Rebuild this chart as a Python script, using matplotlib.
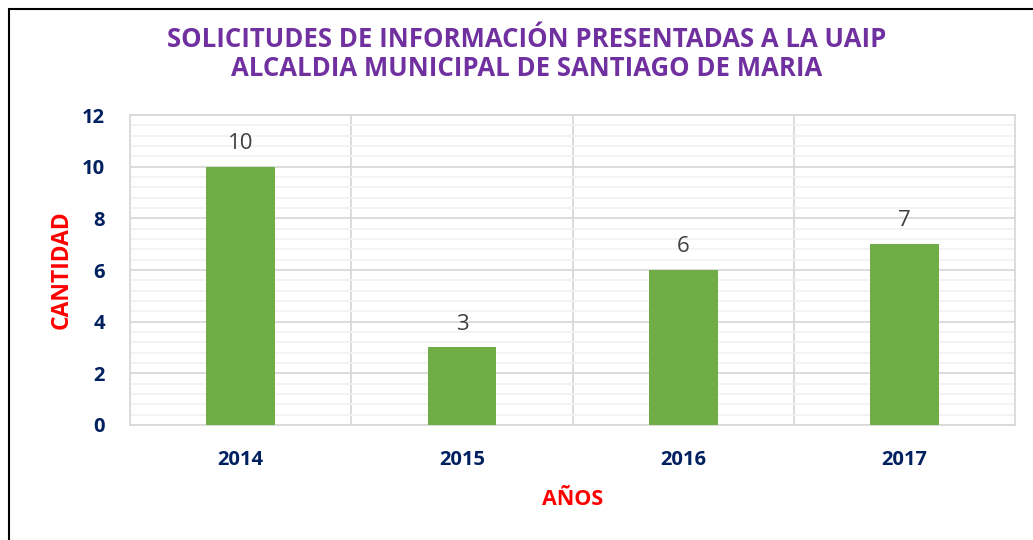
import matplotlib.pyplot as plt
from matplotlib.patches import Rectangle
from matplotlib.ticker import MultipleLocator

years = ["2014", "2015", "2016", "2017"]
solicitudes = [10, 3, 6, 7]

plt.rcParams["font.family"] = ["Open Sans", "DejaVu Sans"]

fig = plt.figure(figsize=(10.33, 5.4), dpi=100)
ax = fig.add_axes([0.1258, 0.213, 0.857, 0.574])

x = range(len(years))
bars = ax.bar(x, solicitudes, width=0.31, color="#70AD47", zorder=3)
for b, v in zip(bars, solicitudes):
    ax.text(b.get_x() + b.get_width() / 2, v + 0.5, str(v), ha="center", va="bottom",
            fontsize=16, color="#404040", zorder=4)

ax.set_xlim(-0.5, len(years) - 0.5)
ax.set_ylim(0, 12)
ax.yaxis.set_major_locator(MultipleLocator(2))
ax.yaxis.set_minor_locator(MultipleLocator(0.4))
ax.set_xticks(list(x))
ax.set_xticklabels(years)
ax.set_xticks([i + 0.5 for i in range(len(years) - 1)], minor=True)
ax.grid(which="major", axis="y", color="#D9D9D9", linewidth=1.3, zorder=0)
ax.grid(which="minor", axis="y", color="#F2F2F2", linewidth=1.3, zorder=0)
ax.grid(which="minor", axis="x", color="#D9D9D9", linewidth=1.3, zorder=0)
ax.tick_params(which="both", length=0)
ax.tick_params(axis="y", pad=18)
ax.tick_params(axis="x", pad=18)
for lab in ax.get_xticklabels() + ax.get_yticklabels():
    lab.set_fontsize(14.5)
    lab.set_fontweight("bold")
    lab.set_color("#002060")
for s in ax.spines.values():
    s.set_color("#D9D9D9")
    s.set_linewidth(1.3)

ax.set_ylabel("CANTIDAD", fontsize=16.5, fontweight="bold", color="#FF0000", labelpad=6)
ax.set_xlabel("AÑOS", fontsize=15.5, fontweight="bold", color="#FF0000", labelpad=14)

fig.text(0.51, 0.9, "SOLICITUDES DE INFORMACIÓN PRESENTADAS A LA UAIP\nALCALDIA MUNICIPAL DE SANTIAGO DE MARIA",
         ha="center", va="center", fontsize=18.5, fontweight="bold", color="#7030A0", linespacing=1.05)

# marco del grafico
fig.patches.append(Rectangle((9 / 1033, -0.1), 1.1, 1 - 9 / 540 + 0.1, transform=fig.transFigure,
                             fill=False, edgecolor="black", linewidth=1.5))

fig.savefig("out.png", dpi=100)
